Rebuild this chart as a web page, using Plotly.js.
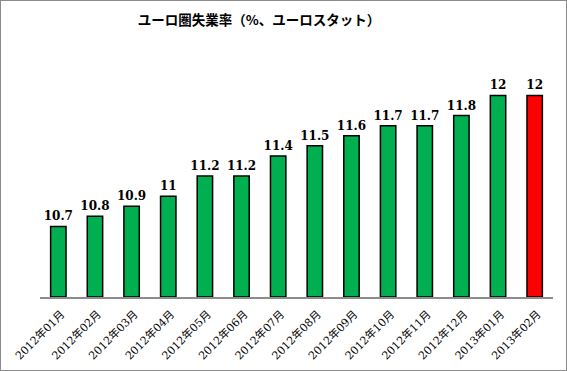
<!DOCTYPE html>
<html><head><meta charset="utf-8">
<script src="https://cdn.plot.ly/plotly-3.0.1.min.js"></script>
<style>
html,body{margin:0;padding:0;background:#fff;}
#wrap{position:relative;width:567px;height:371px;}
#chart{width:567px;height:371px;}
#frame{position:absolute;left:0;top:0;width:567px;height:371px;box-sizing:border-box;border:1px solid #8c8c8c;pointer-events:none;}
</style></head>
<body>
<div id="wrap"><div id="chart"></div><div id="frame"></div></div>
<script>
const months = ["2012年01月","2012年02月","2012年03月","2012年04月","2012年05月","2012年06月","2012年07月","2012年08月","2012年09月","2012年10月","2012年11月","2012年12月","2013年01月","2013年02月"];
const rates = [10.7,10.8,10.9,11,11.2,11.2,11.4,11.5,11.6,11.7,11.7,11.8,12,12];
const highlight = "2013年02月";
const axisBase = 10;

const colors = months.map(m => m === highlight ? "#FF0000" : "#00B050");

const trace = {
  type: "bar",
  x: months,
  y: rates.map(v => v - axisBase),
  base: axisBase,
  marker: {color: colors, line: {color: "#000000", width: 1.5}},
  text: rates.map(v => String(v)),
  textposition: "outside",
  constraintext: "none",
  cliponaxis: false,
  textfont: {family: "DejaVu Serif", size: 12, color: "#000000", weight: "bold"},
  hoverinfo: "none"
};

const layout = {
  width: 567, height: 371,
  margin: {l: 40, r: 14, t: 45, b: 74},
  paper_bgcolor: "#fff", plot_bgcolor: "#fff",
  bargap: 0.58,
  showlegend: false,
  title: {text: "<b>ユーロ圏失業率（%、ユーロスタット）</b>", x: 0.457, xanchor: "center", y: 0.946, yanchor: "middle",
          font: {family: "Noto Sans CJK JP", size: 13.5, color: "#000"}},
  xaxis: {type: "category", tickangle: -45, showline: true, linecolor: "#8c8c8c", linewidth: 1.5,
          ticks: "", showgrid: false, zeroline: false, ticklabelstandoff: 5, ticklabelshift: 3,
          tickfont: {family: "DejaVu Serif, Noto Sans CJK JP", size: 11, color: "#000000"}},
  yaxis: {range: [10, 12.5], visible: false, showgrid: false, zeroline: false}
};
Plotly.newPlot("chart", [trace], layout, {staticPlot: true, displayModeBar: false});
</script>
</body></html>
